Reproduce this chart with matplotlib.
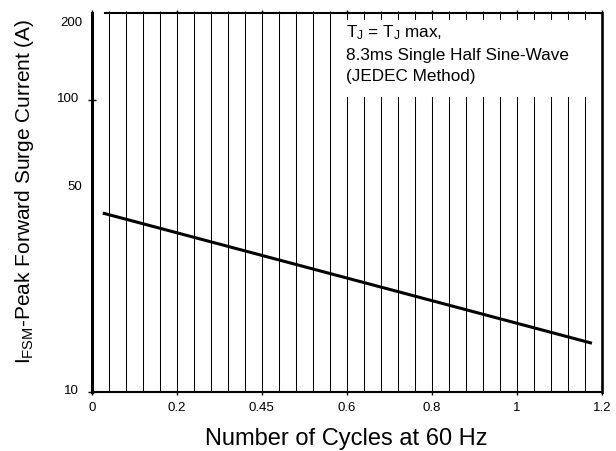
import numpy as np
import matplotlib
matplotlib.use('Agg')
import matplotlib.pyplot as plt
import matplotlib.transforms as mtransforms
from matplotlib.patches import Rectangle
from matplotlib.ticker import FixedLocator, MultipleLocator

plt.rcParams['font.family'] = ['Liberation Sans', 'DejaVu Sans']
plt.rcParams['mathtext.fontset'] = 'custom'
plt.rcParams['mathtext.rm'] = 'Liberation Sans'
plt.rcParams['mathtext.it'] = 'Liberation Sans:italic'

# surge current curve
cycles = [0.026, 1.177]
surge_current = [41.1, 14.7]

# axis ticks
x_ticks = [0, 0.2, 0.4, 0.6, 0.8, 1.0, 1.2]
x_tick_labels = ['0', '0.2', '0.45', '0.6', '0.8', '1', '1.2']
y_major = [10, 100]
y_major_labels = ['10', '100']
y_minor = [50, 200]
y_minor_labels = ['50', '200']

note = ('T$_{\\rm J}$ = T$_{\\rm J}$ max,\n'
        '8.3ms Single Half Sine-Wave\n'
        '(JEDEC Method)')

fig = plt.figure(figsize=(6.16, 4.51), dpi=100)
ax = fig.add_axes([0.1489, 0.1308, 0.8279, 0.841])

ax.plot(cycles, surge_current, color='black', lw=2.2, zorder=4,
        solid_capstyle='butt')

ax.set_yscale('log')
ax.set_xlim(0, 1.2)
ax.set_ylim(10, 200)

# x ticks + dense vertical grid
ax.xaxis.set_major_locator(FixedLocator(x_ticks))
ax.set_xticklabels(x_tick_labels)
ax.xaxis.set_minor_locator(MultipleLocator(0.04))
ax.grid(True, which='both', axis='x', color='black', lw=0.75, zorder=1)
ax.tick_params(axis='x', which='major', direction='out', length=2.5,
               width=1, pad=5, labelsize=9.5, bottom=True, top=True)
ax.tick_params(axis='x', which='minor', direction='out', length=1.5,
               width=0.75, bottom=False, top=True)

# y ticks
ax.yaxis.set_major_locator(FixedLocator(y_major))
ax.yaxis.set_minor_locator(FixedLocator(y_minor))
ax.set_yticklabels(y_major_labels)
ax.set_yticklabels(y_minor_labels, minor=True)
ax.tick_params(axis='y', which='major', direction='inout', length=6,
               width=1, pad=6, labelsize=9.5)
ax.tick_params(axis='y', which='minor', length=0, pad=7, labelsize=9.5)

# nudge tick labels as in the reference
up = mtransforms.ScaledTranslation(0, 3 / 100, fig.dpi_scale_trans)
down = mtransforms.ScaledTranslation(0, -9 / 100, fig.dpi_scale_trans)
for lab in ax.yaxis.get_majorticklabels():
    lab.set_transform(lab.get_transform() + up)
for lab, val in zip(ax.yaxis.get_minorticklabels(), y_minor):
    lab.set_transform(lab.get_transform() + (down if val == 200 else up))

# spines
ax.spines['left'].set_linewidth(2.2)
ax.spines['bottom'].set_linewidth(1.5)
ax.spines['right'].set_linewidth(1.9)
ax.spines['top'].set_linewidth(1.5)
ax.spines['top'].set_bounds(0.031, 1.2)

# white box behind the note
ax.add_patch(Rectangle((0.477, 0.778), 0.518, 0.203, transform=ax.transAxes,
                       facecolor='white', edgecolor='none', zorder=2))
ax.text(0.4986, 0.972, note, transform=ax.transAxes, ha='left', va='top',
        fontsize=12.3, linespacing=1.5, zorder=5)

ax.set_xlabel('Number of Cycles at 60 Hz', fontsize=17, labelpad=10)
ax.set_ylabel('I$_{\\rm FSM}$-Peak Forward Surge Current (A)', fontsize=15)
ax.yaxis.set_label_coords(-0.109, 0.53)

fig.savefig('out.png', dpi=100)
